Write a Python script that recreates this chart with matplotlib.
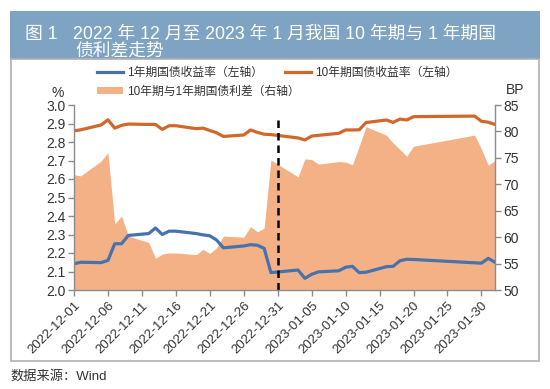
import matplotlib
matplotlib.use('Agg')
import matplotlib.pyplot as plt
import matplotlib.dates as mdates
from matplotlib.patches import Rectangle
from matplotlib.lines import Line2D
from matplotlib.patches import Patch
import pandas as pd

plt.rcParams['font.family'] = ['Liberation Sans', 'Noto Sans CJK SC', 'DejaVu Sans']

# trading days, Dec 2022 - Feb 2023
dates = ['2022-12-01', '2022-12-02', '2022-12-05', '2022-12-06', '2022-12-07',
         '2022-12-08', '2022-12-09', '2022-12-12', '2022-12-13', '2022-12-14',
         '2022-12-15', '2022-12-16', '2022-12-19', '2022-12-20', '2022-12-21',
         '2022-12-22', '2022-12-23', '2022-12-26', '2022-12-27', '2022-12-28',
         '2022-12-29', '2022-12-30', '2023-01-03', '2023-01-04', '2023-01-05',
         '2023-01-06', '2023-01-09', '2023-01-10', '2023-01-11', '2023-01-12',
         '2023-01-13', '2023-01-16', '2023-01-17', '2023-01-18', '2023-01-19',
         '2023-01-20', '2023-01-29', '2023-01-30', '2023-01-31', '2023-02-01']

# 1年期国债收益率 (%)
y1 = [2.142, 2.150, 2.148, 2.160, 2.250, 2.250, 2.295, 2.305, 2.335, 2.300,
      2.318, 2.318, 2.305, 2.298, 2.293, 2.270, 2.228, 2.238, 2.245, 2.242,
      2.225, 2.094, 2.108, 2.063, 2.085, 2.098, 2.104, 2.123, 2.128, 2.094,
      2.096, 2.126, 2.128, 2.158, 2.166, 2.165, 2.147, 2.145, 2.171, 2.150]

# 10年期国债收益率 (%)
y10 = [2.860, 2.866, 2.892, 2.920, 2.875, 2.890, 2.897, 2.895, 2.895, 2.868,
       2.888, 2.888, 2.872, 2.875, 2.862, 2.850, 2.830, 2.838, 2.865, 2.852,
       2.842, 2.840, 2.822, 2.811, 2.832, 2.836, 2.847, 2.865, 2.865, 2.866,
       2.905, 2.919, 2.906, 2.924, 2.919, 2.937, 2.940, 2.912, 2.907, 2.895]

# 利差 (BP)
spread = [71.8, 71.6, 74.4, 76.0, 62.5, 64.0, 60.2, 59.0, 56.0, 56.8,
          57.0, 57.0, 56.7, 57.7, 56.9, 58.0, 60.2, 60.0, 62.0, 61.0,
          61.7, 74.6, 71.4, 74.8, 74.7, 73.8, 74.3, 74.2, 73.7, 77.2,
          80.9, 79.3, 77.8, 76.6, 75.3, 77.2, 79.3, 76.7, 73.6, 74.5]

x = pd.to_datetime(dates)
tick_dates = pd.date_range('2022-12-01', '2023-01-30', freq='5D')

c_blue = '#4672ad'
c_orange = '#d2672c'
c_fill = '#f4b186'
c_axis = '#8c8c8c'
c_text = '#333333'

fig = plt.figure(figsize=(5.5, 3.89), dpi=100)

# title bar and frame
fig.patches.append(Rectangle((10 / 550, 1 - 59 / 389), 530 / 550, 48 / 389,
                             transform=fig.transFigure, facecolor='#7ea3c3',
                             edgecolor='none', zorder=0))
fig.patches.append(Rectangle((11 / 550, 1 - 361 / 389), 528 / 550, 302 / 389,
                             transform=fig.transFigure, facecolor='none',
                             edgecolor='#b0b0b0', lw=1.2, zorder=0))
fig.text(25 / 550, 1 - 39 / 389, '图 1', color='white', fontsize=12.8,
         va='baseline', ha='left')
fig.text(73 / 550, 1 - 39 / 389,
         '2022 年 12 月至 2023 年 1 月我国 10 年期与 1 年期国',
         color='white', fontsize=12.8, va='baseline', ha='left')
fig.text(75 / 550, 1 - 56.5 / 389, '债利差走势',
         color='white', fontsize=12.8, va='baseline', ha='left')
fig.text(10 / 550, 1 - 376 / 389, '数据来源：Wind', color=c_text,
         fontsize=9.5, va='center', ha='left')

ax = fig.add_axes([74 / 550, 1 - 290 / 389, 421 / 550, 185 / 389])
ax2 = ax.twinx()

ax2.fill_between(x, 50, spread, color=c_fill, lw=0)
ax.plot(x, y1, color=c_blue, lw=2.3)
ax.plot(x, y10, color=c_orange, lw=2.3)
ax.vlines(pd.Timestamp('2022-12-31'), 2.0, 2.94, colors='black',
          linestyles=(0, (3, 2)), lw=1.8)

ax.set_zorder(ax2.get_zorder() + 1)
ax.patch.set_visible(False)

ax.set_ylim(2.0, 3.0)
ax.set_yticks([2.0 + 0.1 * i for i in range(11)])
ax.set_yticklabels(['%.1f' % (2.0 + 0.1 * i) for i in range(11)])
ax2.set_ylim(50, 85)
ax2.set_yticks(range(50, 86, 5))

ax.set_xlim(pd.Timestamp('2022-12-01'), pd.Timestamp('2023-02-01'))
ax.set_xticks(tick_dates)
ax.xaxis.set_major_formatter(mdates.DateFormatter('%Y-%m-%d'))
for lab in ax.get_xticklabels():
    lab.set_rotation(45)
    lab.set_ha('right')
    lab.set_rotation_mode('anchor')

for a in (ax, ax2):
    a.spines['top'].set_visible(False)
    for s in ('left', 'right', 'bottom'):
        a.spines[s].set_color(c_axis)
        a.spines[s].set_linewidth(1.0)
    a.tick_params(colors=c_axis, labelcolor=c_text, labelsize=10,
                  length=4, width=1.0, pad=2)
ax.spines['right'].set_visible(False)
ax2.spines['left'].set_visible(False)
ax2.spines['bottom'].set_visible(False)
ax.tick_params(axis='x', labelsize=9.5, pad=3)

fig.text(58 / 550, 1 - 93 / 389, '%', color=c_text, fontsize=10,
         ha='center', va='center')
fig.text(515 / 550, 1 - 90 / 389, 'BP', color=c_text, fontsize=10,
         ha='center', va='center')

# legend
h1 = Line2D([], [], color=c_blue, lw=2.3)
h2 = Line2D([], [], color=c_orange, lw=2.3)
h3 = Patch(color=c_fill, lw=0)
leg1 = fig.legend([h1, h2], ['1年期国债收益率（左轴）', '10年期国债收益率（左轴）'],
                  loc='center left', bbox_to_anchor=(97 / 550, 1 - 73 / 389),
                  ncol=2, frameon=False, fontsize=8.5, borderaxespad=0,
                  borderpad=0, handlelength=2.2, handletextpad=0.35,
                  columnspacing=1.9)
leg2 = fig.legend([h3], ['10年期与1年期国债利差（右轴）'],
                  loc='center left', bbox_to_anchor=(97 / 550, 1 - 92 / 389),
                  frameon=False, fontsize=8.5, borderaxespad=0, borderpad=0,
                  handlelength=2.2, handleheight=0.5, handletextpad=0.35)
for leg in (leg1, leg2):
    for t in leg.get_texts():
        t.set_color(c_text)

fig.savefig('out.png', dpi=100)
